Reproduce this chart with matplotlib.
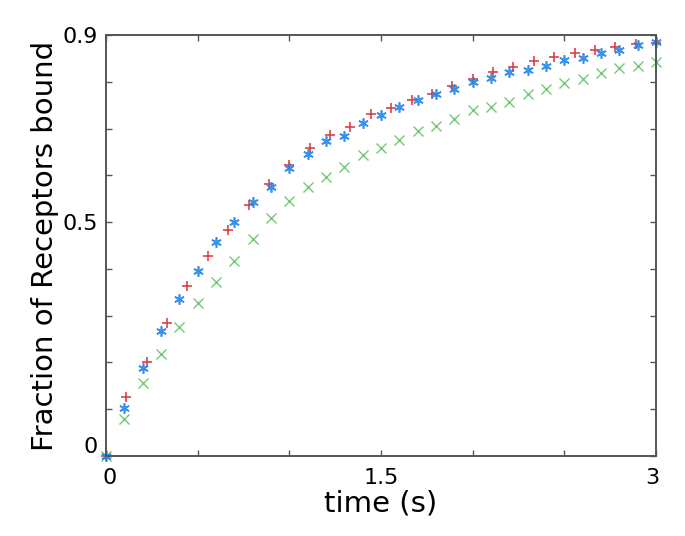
import numpy as np
import matplotlib
matplotlib.use("Agg")
import matplotlib.pyplot as plt
from matplotlib.transforms import ScaledTranslation

# time points
t_blue = np.arange(31) * 0.1
t_red = np.arange(28) * (3.0 / 27)
t_green = np.arange(31) * 0.1

# fraction of receptors bound
red = [0.0, 0.126, 0.200, 0.284, 0.363, 0.427, 0.484, 0.536, 0.581, 0.623,
       0.658, 0.686, 0.704, 0.731, 0.744, 0.761, 0.774, 0.792, 0.807, 0.820,
       0.831, 0.844, 0.852, 0.861, 0.868, 0.874, 0.881, 0.883]
blue = [0.0, 0.103, 0.189, 0.268, 0.336, 0.396, 0.457, 0.500, 0.544, 0.576,
        0.615, 0.646, 0.673, 0.685, 0.711, 0.729, 0.746, 0.761, 0.774, 0.784,
        0.799, 0.809, 0.820, 0.826, 0.833, 0.846, 0.851, 0.862, 0.868, 0.879,
        0.884]
green = [0.0, 0.079, 0.156, 0.219, 0.276, 0.328, 0.373, 0.417, 0.464, 0.509,
         0.546, 0.574, 0.597, 0.618, 0.643, 0.659, 0.675, 0.694, 0.706, 0.721,
         0.739, 0.747, 0.757, 0.774, 0.784, 0.797, 0.807, 0.819, 0.829, 0.833,
         0.843]

xticks = [0, 0.5, 1, 1.5, 2, 2.5, 3]
xticklabels = ["0", "", "", "1.5", "", "", "3"]
yticks = [0, 0.1, 0.2, 0.3, 0.4, 0.5, 0.6, 0.7, 0.8, 0.9]
yticklabels = ["0", "", "", "", "", "0.5", "", "", "", "0.9"]

fig = plt.figure(figsize=(6.85, 5.36), dpi=100)
ax = fig.add_axes([0.1547, 0.1493, 0.803, 0.7854])

ax.plot(t_green, green, linestyle="none", marker="x", color="#5cc05c",
        markersize=6.5, markeredgewidth=1.0, alpha=0.85, clip_on=False)
ax.plot(t_red, red, linestyle="none", marker="+", color="#dd2a35",
        markersize=7, markeredgewidth=1.2, alpha=0.9, clip_on=False)
ax.plot(t_blue, blue, linestyle="none", marker=(6, 2, 0), color="#2486e6",
        markersize=7.5, markeredgewidth=1.2, alpha=0.9, clip_on=False)

ax.set_xlim(0, 3)
ax.set_ylim(0, 0.9)
ax.set_xticks(xticks)
ax.set_xticklabels(xticklabels)
ax.set_yticks(yticks)
ax.set_yticklabels(yticklabels)
ax.tick_params(direction="in", length=4, width=1, color="#555555",
               top=True, right=True, labelsize=16, pad=6)
ax.tick_params(axis="x", pad=9)
for s in ax.spines.values():
    s.set_color("#555555")
    s.set_linewidth(1.4)

ax.set_xlabel("time (s)", fontsize=21, labelpad=1)
ax.set_ylabel("Fraction of Receptors bound", fontsize=21, labelpad=2)
ax.xaxis.label.set_transform(ax.xaxis.label.get_transform())

# nudge end labels inward like the original
dpi = fig.dpi
xl = ax.get_xticklabels()
xl[0].set_transform(xl[0].get_transform() + ScaledTranslation(4 / dpi, 0, fig.dpi_scale_trans))
xl[-1].set_transform(xl[-1].get_transform() + ScaledTranslation(-4 / dpi, 0, fig.dpi_scale_trans))
yl = ax.get_yticklabels()
yl[0].set_transform(yl[0].get_transform() + ScaledTranslation(0, 11 / dpi, fig.dpi_scale_trans))

fig.savefig("out.png", dpi=100)
